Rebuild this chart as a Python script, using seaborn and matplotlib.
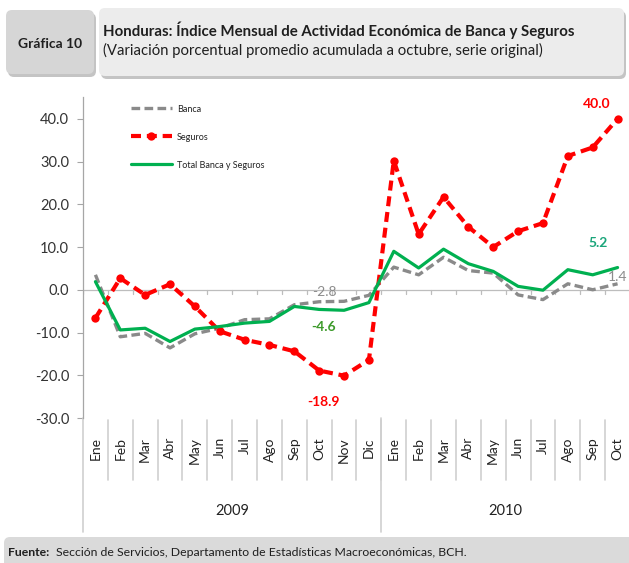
"""Honduras: IMAE Banca y Seguros, variación porcentual acumulada."""

import matplotlib

matplotlib.use("Agg")
import matplotlib.pyplot as plt
import matplotlib.transforms as mtransforms
from matplotlib.patches import FancyBboxPatch
import numpy as np
import pandas as pd
import seaborn as sns

# --- data -----------------------------------------------------------------
months = ["Ene", "Feb", "Mar", "Abr", "May", "Jun", "Jul", "Ago", "Sep", "Oct", "Nov", "Dic",
          "Ene", "Feb", "Mar", "Abr", "May", "Jun", "Jul", "Ago", "Sep", "Oct"]
years = ["2009", "2010"]
year_sizes = [12, 10]

banca = [3.5, -11.0, -10.2, -13.6, -10.3, -9.0, -7.0, -6.8, -3.5, -2.8, -2.7, -1.3,
         5.3, 3.5, 7.6, 4.5, 3.9, -1.2, -2.3, 1.4, 0.0, 1.4]
seguros = [-6.6, 2.7, -1.2, 1.3, -3.9, -9.7, -11.7, -12.9, -14.4, -18.9, -20.1, -16.4,
           30.2, 13.0, 21.7, 14.7, 10.0, 13.7, 15.6, 31.3, 33.3, 40.0]
total = [1.9, -9.4, -9.0, -12.1, -9.2, -8.6, -7.8, -7.4, -3.9, -4.6, -4.8, -3.0,
         9.0, 5.1, 9.5, 6.1, 4.3, 0.8, -0.1, 4.7, 3.5, 5.2]

df = pd.DataFrame({"pos": np.arange(len(months)), "mes": months,
                   "Banca": banca, "Seguros": seguros, "Total Banca y Seguros": total})

RED = "#ff0000"
GREEN = "#00b050"
GRAY = "#8a8a8a"

sns.set_theme(style="white")
plt.rcParams["font.family"] = ["Lato", "DejaVu Sans"]

W, H = 629, 563
fig = plt.figure(figsize=(W / 100, H / 100), dpi=100)
fig.patch.set_facecolor("white")

# axes placed in pixel terms (left spine at x=83, y=0 row...)
ax = fig.add_axes([83 / W, 1 - 418 / H, 547 / W, 321 / H])

sns.lineplot(data=df, x="pos", y="Banca", ax=ax, color=GRAY, lw=2.4,
             dashes=False, label="Banca", zorder=3)
ax.lines[-1].set_dashes([2.6, 1.3])
sns.lineplot(data=df, x="pos", y="Seguros", ax=ax, color=RED, lw=3.0,
             marker="o", markersize=6, markeredgewidth=0, label="Seguros", zorder=4)
ax.lines[-1].set_dashes([2.4, 1.4])
sns.lineplot(data=df, x="pos", y="Total Banca y Seguros", ax=ax, color=GREEN, lw=2.3,
             label="Total Banca y Seguros", zorder=5)

ax.set_xlim(-0.5, len(months) - 0.5)
ax.set_ylim(-30, 45.1)
ax.set_yticks(np.arange(-30, 41, 10))
ax.set_yticklabels([f"{v:.1f}" for v in np.arange(-30, 41, 10)], fontsize=10.5, color="#333333")
ax.tick_params(axis="y", left=True, length=4, width=0.8, color="#a6a6a6", pad=6)
ax.set_xticks([])
ax.set_xlabel("")
ax.set_ylabel("")
for side in ["top", "right", "bottom"]:
    ax.spines[side].set_visible(False)
ax.spines["left"].set_color("#a6a6a6")
ax.spines["left"].set_linewidth(0.9)

# zero line with small category ticks
ax.axhline(0, color="#bdbdbd", lw=0.9, zorder=1)
xt = ax.get_xaxis_transform()
px_to_ax = 1 / 321
for b in np.arange(-0.5, len(months), 1.0):
    ax.plot([b, b], [0, -1.1], color="#bdbdbd", lw=0.9, zorder=1)

# category labels + separators below the plot
for i, m in enumerate(months):
    ax.text(i, -19 * px_to_ax, m, transform=xt, rotation=90, ha="center", va="top",
            fontsize=10, color="#222222", clip_on=False)
for b in np.arange(0.5, len(months) - 0.5, 1.0):
    ax.plot([b, b], [-2 * px_to_ax, -62 * px_to_ax], transform=xt, color="#cfcfcf",
            lw=1.2, clip_on=False)
start = 0
for yr, n in zip(years, year_sizes):
    b = start - 0.5
    ax.plot([b, b], [0, -114 * px_to_ax], transform=xt, color="#cfcfcf", lw=1.2, clip_on=False)
    ax.text(start + n / 2 - 0.5, -93 * px_to_ax, yr, transform=xt, ha="center", va="center",
            fontsize=10.5, color="#222222", clip_on=False)
    start += n

# data labels
last = len(months) - 1
oct09 = 9
ax.annotate(f"{seguros[last]:.1f}", (last, seguros[last]), xytext=(-15, 11),
            textcoords="offset points", ha="center", va="center", color=RED,
            fontsize=10, fontweight="bold")
ax.annotate(f"{total[last]:.1f}", (last, total[last]), xytext=(-14, 18),
            textcoords="offset points", ha="center", va="center", color="#1aa57a",
            fontsize=10, fontweight="bold")
ax.annotate(f"{banca[last]:.1f}", (last, banca[last]), xytext=(0, 5),
            textcoords="offset points", ha="center", va="center", color="#8c8c8c",
            fontsize=10)
ax.annotate(f"{banca[oct09]:.1f}", (oct09, banca[oct09]), xytext=(4, 7),
            textcoords="offset points", ha="center", va="center", color="#8c8c8c",
            fontsize=10)
ax.annotate(f"{total[oct09]:.1f}", (oct09, total[oct09]), xytext=(3, -13),
            textcoords="offset points", ha="center", va="center", color="#3c9a2a",
            fontsize=10, fontweight="bold")
ax.annotate(f"{seguros[oct09]:.1f}", (oct09, seguros[oct09]), xytext=(3, -23),
            textcoords="offset points", ha="center", va="center", color=RED,
            fontsize=10, fontweight="bold")

# legend
leg = ax.legend(loc="upper left", bbox_to_anchor=(44 / 547, 1 - 4 / 321), frameon=False,
                fontsize=6.5, handlelength=4.6, labelspacing=2.1, handletextpad=0.5,
                borderaxespad=0)
for t in leg.get_texts():
    t.set_color("#222222")

# header / footer boxes (pixel coordinates, origin bottom-left)
ident = mtransforms.IdentityTransform()


def box(x0, y0_top, w, h, face, shadow=True, pad=6):
    y0 = H - y0_top - h
    if shadow:
        fig.add_artist(FancyBboxPatch((x0 + 2, y0 - 3), w, h,
                                      boxstyle=f"round,pad=0,rounding_size={pad}",
                                      transform=ident, facecolor="#c4c4c4", edgecolor="none",
                                      zorder=0))
    fig.add_artist(FancyBboxPatch((x0, y0), w, h, boxstyle=f"round,pad=0,rounding_size={pad}",
                                  transform=ident, facecolor=face, edgecolor="none", zorder=0))


box(6, 10, 88, 64, "#d6d6d6")
box(99, 8, 525, 68, "#ececec")
box(4, 537, 640, 40, "#dadada", shadow=False)

fig.text(50 / W, 1 - 44 / H, "Gráfica 10", ha="center", va="center", fontsize=10,
         fontweight="bold", color="#1f1f1f")
fig.text(103 / W, 1 - 30 / H, "Honduras: Índice Mensual de Actividad Económica de Banca y Seguros",
         ha="left", va="center", fontsize=10.8, fontweight="bold", color="#1f1f1f")
fig.text(103 / W, 1 - 50 / H, "(Variación porcentual promedio acumulada a octubre, serie original)",
         ha="left", va="center", fontsize=10.7, color="#1f1f1f")
fig.text(8 / W, 1 - 553 / H, "Fuente:", ha="left", va="center", fontsize=8.8,
         fontweight="bold", color="#1f1f1f")
fig.text(56 / W, 1 - 553 / H, "Sección de Servicios, Departamento de Estadísticas Macroeconómicas, BCH.",
         ha="left", va="center", fontsize=8.8, color="#1f1f1f")

fig.savefig("out.png", dpi=100)
plt.close(fig)
